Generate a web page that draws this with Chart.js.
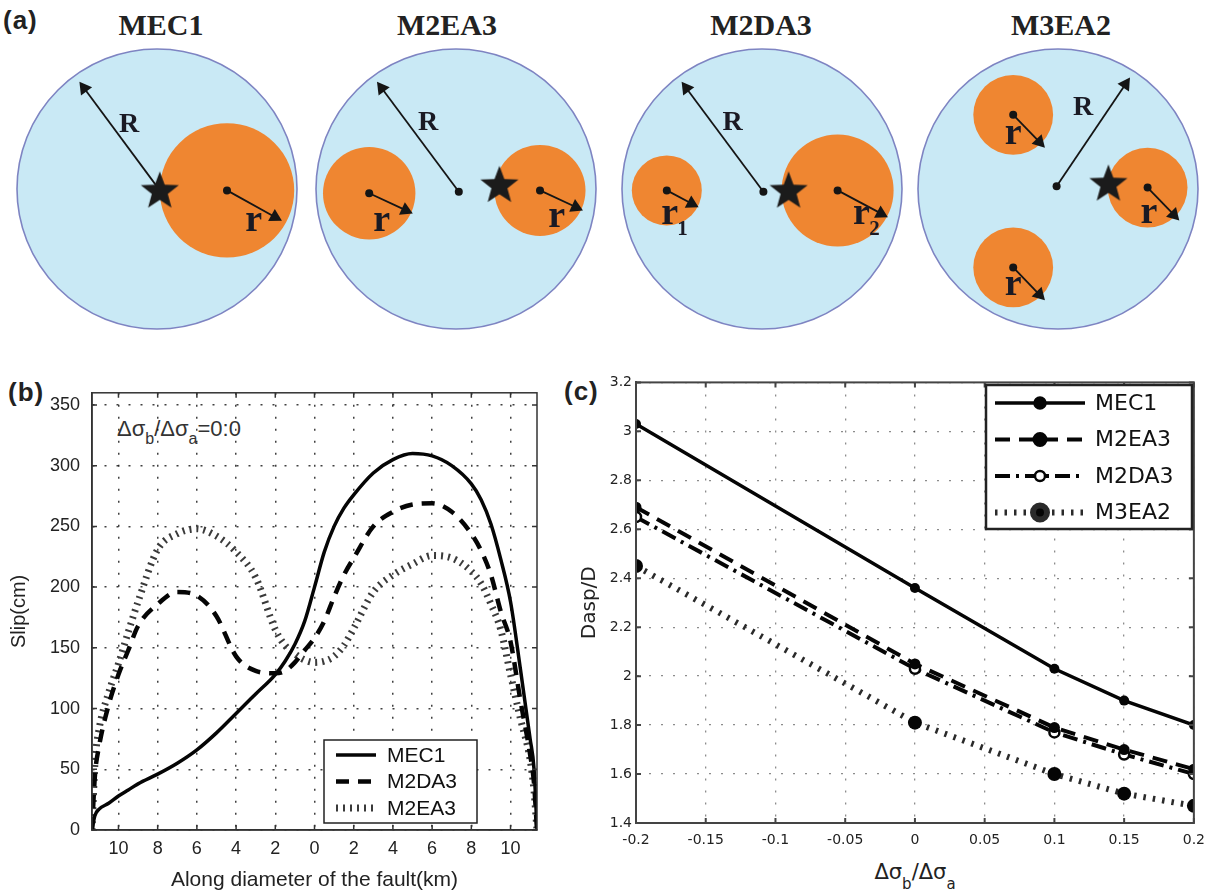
<!DOCTYPE html>
<html>
<head>
<meta charset="utf-8">
<script src="https://cdn.jsdelivr.net/npm/chart.js@4.4.1/dist/chart.umd.min.js"></script>
<style>
  body { margin: 0; background: #fff; width: 1214px; height: 893px; position: relative; overflow: hidden; }
  canvas { position: absolute; }
  .txt { position: absolute; color: #222; white-space: nowrap; }
  .panel { font: bold 26px "Liberation Sans", Arial, sans-serif; letter-spacing: 1px; }
  .title { font: bold 30px "Liberation Serif", "Times New Roman", serif; width: 200px; text-align: center; line-height: 30px; top: 10px; }
  .sub { position: relative; }
</style>
</head>
<body>
<div class="txt panel" style="left:3px;top:5px">(a)</div>
<div class="txt panel" style="left:8px;top:377px">(b)</div>
<div class="txt panel" style="left:564px;top:376px">(c)</div>
<div class="txt" style="left:117px;top:418px;font:22px 'Liberation Sans',Arial,sans-serif;line-height:22px;color:#333">&Delta;&sigma;<span class="sub" style="font-size:16px;top:8px">b</span>/&Delta;&sigma;<span class="sub" style="font-size:16px;top:8px">a</span>=0:0</div>
<div class="txt" style="left:815px;width:200px;text-align:center;top:862px;font:21px 'DejaVu Sans',sans-serif;line-height:21px">&Delta;&sigma;<span class="sub" style="font-size:15px;top:10px">b</span>/&Delta;&sigma;<span class="sub" style="font-size:15px;top:10px">a</span></div>

<script>
// ---------- panel (a): fault models, radius of fault R = 1 ----------
const faultNames = ['MEC1', 'M2EA3', 'M2DA3', 'M3EA2'];
const asperityCentres = [
  [[0.5, -0.01]],
  [[-0.62, -0.03], [0.6, -0.01]],
  [[-0.68, -0.01], [0.54, -0.01]],
  [[-0.32, 0.53], [0.64, 0.01], [-0.32, -0.56]],
];
const asperityRadii = [[0.48], [0.33, 0.325], [0.25, 0.4], [0.285, 0.285, 0.285]];
const asperityLabels = [['r'], ['r', 'r'], ['r1', 'r2'], ['r', 'r', 'r']];
const hypocentres = [[0.02, -0.01], [0.31, 0.03], [0.19, -0.01], [0.36, 0.04]];
const faultCentres = [[0.02, -0.01], [0.02, -0.02], [0.01, -0.02], [-0.01, 0.02]];
const radiusArrowTips = [[-0.55, 0.76], [-0.56, 0.76], [-0.57, 0.76], [0.51, 0.79]];
const slipArrowAngles = [-29, -25, -28, -46];
const slipArrowLength = [0.92, 1.02, 1.0, 1.12];

// ---------- panel (b): slip along the diameter ----------
const slipX = [-11.35, -11.2, -11, -10.5, -10, -9.5, -9, -8, -7, -6, -5, -4, -3, -2, -1.5, -1, -0.5, 0,
  0.5, 1, 1.5, 2, 3, 4, 5, 6, 7, 8, 8.5, 9, 9.5, 10, 10.5, 11, 11.2, 11.35];
const slipMEC1 = [0, 12, 17, 22, 28, 33, 38, 46, 55, 66, 80, 96, 112, 128, 139, 153, 172, 200,
  229, 250, 265, 276, 294, 305, 310, 308, 300, 285, 272, 252, 223, 188, 133, 75, 50, 0];
const slipM2DA3 = [0, 45, 68, 103, 128, 148, 168, 186, 196, 193, 176, 143, 131, 129, 131, 138, 148, 158,
  172, 192, 210, 224, 250, 262, 268, 269, 262, 244, 230, 210, 180, 155, 107, 62, 38, 0];
const slipM2EA3 = [0, 55, 82, 113, 137, 163, 188, 231, 244, 248, 242, 229, 208, 165, 152, 145, 140, 138,
  139, 143, 152, 166, 196, 210, 219, 226, 224, 213, 203, 186, 165, 128, 92, 58, 32, 0];
const slipTicks = [-10, -8, -6, -4, -2, 0, 2, 4, 6, 8, 10];
const slipTickLabels = ['10', '8', '6', '4', '2', '0', '2', '4', '6', '8', '10'];
const slipYTicks = [0, 50, 100, 150, 200, 250, 300, 350];

// ---------- panel (c): Dasp/D against stress ratio ----------
const stressRatio = [-0.2, 0, 0.1, 0.15, 0.2];
const daspMEC1 = [3.03, 2.36, 2.03, 1.90, 1.80];
const daspM2EA3 = [2.69, 2.05, 1.79, 1.70, 1.62];
const daspM2DA3 = [2.65, 2.03, 1.77, 1.68, 1.60];
const daspM3EA2 = [2.45, 1.81, 1.60, 1.52, 1.47];
const ratioTicks = [-0.2, -0.15, -0.1, -0.05, 0, 0.05, 0.1, 0.15, 0.2];
const ratioTickLabels = ['-0.2', '-0.15', '-0.1', '-0.05', '0', '0.05', '0.1', '0.15', '0.2'];
const daspTicks = [1.4, 1.6, 1.8, 2, 2.2, 2.4, 2.6, 2.8, 3, 3.2];
const daspTickLabels = ['1.4', '1.6', '1.8', '2', '2.2', '2.4', '2.6', '2.8', '3', '3.2'];

// layout
const diagramX = [157, 456, 762, 1058];
const titleX = [161, 447, 761, 1061];
const PX_PER_R = 140;
const labelOffsets = [[[0.19, -0.22]], [[0.09, -0.2], [0.12, -0.19]], [[0.02, -0.17], [0.17, -0.17]],
  [[0, -0.14], [0.01, -0.18], [0, -0.13]]];
const radiusLabels = [[-0.2, 0.46], [-0.2, 0.47], [-0.21, 0.47], [0.18, 0.58]];

function addCanvas(left, top, w, h) {
  const cv = document.createElement('canvas');
  cv.width = w; cv.height = h;
  cv.style.left = left + 'px'; cv.style.top = top + 'px';
  document.body.appendChild(cv);
  return cv;
}

function makeStar(size) {
  const c = document.createElement('canvas');
  c.width = c.height = size * 2 + 4;
  const g = c.getContext('2d');
  g.translate(c.width / 2, c.height / 2 + 1);
  g.beginPath();
  for (let i = 0; i < 10; i++) {
    const rr = i % 2 ? size * 0.42 : size;
    const a = -Math.PI / 2 + i * Math.PI / 5;
    g.lineTo(rr * Math.cos(a), rr * Math.sin(a));
  }
  g.closePath();
  g.fillStyle = '#1b1b1b';
  g.fill();
  return c;
}
const starImage = makeStar(20);

const unitPx = chart => chart.scales.x.getPixelForValue(1) - chart.scales.x.getPixelForValue(0);
const circleRadius = ctx => (ctx.raw ? ctx.raw.r * unitPx(ctx.chart) : 0);

function arrowDataset(from, to, order) {
  const dx = to[0] - from[0], dy = to[1] - from[1];
  const len = Math.hypot(dx, dy);
  const back = 7 / PX_PER_R;
  const head = { x: to[0] - dx / len * back, y: to[1] - dy / len * back };
  return {
    data: [{ x: from[0], y: from[1] }, head],
    showLine: true,
    borderColor: '#151515',
    borderWidth: 1.8,
    pointStyle: 'triangle',
    pointRotation: Math.atan2(dx, dy) * 180 / Math.PI,
    pointRadius: [0, 8],
    pointBackgroundColor: '#151515',
    pointBorderWidth: 0,
    clip: false,
    order
  };
}

const diagramText = {
  id: 'diagramText',
  afterDatasetsDraw(chart, args, o) {
    const { ctx, scales: { x, y } } = chart;
    const k = o.index;
    ctx.save();
    ctx.fillStyle = '#1a1a24';
    ctx.textAlign = 'center';
    ctx.textBaseline = 'middle';
    ctx.font = 'bold 28px "Liberation Serif", serif';
    const [rx, ry] = radiusLabels[k];
    ctx.fillText('R', x.getPixelForValue(rx), y.getPixelForValue(ry));
    asperityCentres[k].forEach(([cx, cy], i) => {
      const [ox, oy] = labelOffsets[k][i];
      const px = x.getPixelForValue(cx + ox), py = y.getPixelForValue(cy + oy);
      const label = asperityLabels[k][i];
      ctx.font = 'bold 38px "Liberation Serif", serif';
      ctx.fillText(label[0], px, py);
      if (label.length > 1) {
        ctx.font = 'bold 21px "Liberation Serif", serif';
        ctx.fillText(label.slice(1), px + 13, py + 15);
      }
    });
    ctx.restore();
  }
};

faultNames.forEach((name, k) => {
  const t = document.createElement('div');
  t.className = 'txt title';
  t.style.left = (titleX[k] - 100) + 'px';
  t.textContent = name;
  document.body.appendChild(t);

  const cv = addCanvas(diagramX[k] - 150, 39, 300, 300);
  const half = 150 / PX_PER_R;
  const asp = asperityCentres[k].map(([x, y], i) => ({ x, y, r: asperityRadii[k][i] }));
  const datasets = [
    { data: [{ x: 0, y: 0, r: 1 }], pointRadius: circleRadius, pointBackgroundColor: '#c9e9f5',
      pointBorderColor: '#7e84c2', pointBorderWidth: 1.6, clip: false, order: 9 },
    { data: asp, pointRadius: circleRadius, pointBackgroundColor: '#ef8631', pointBorderWidth: 0,
      clip: false, order: 8 },
    arrowDataset(faultCentres[k], radiusArrowTips[k], 5),
  ];
  asp.forEach(a => {
    const ang = slipArrowAngles[k] * Math.PI / 180;
    const L = a.r * slipArrowLength[k];
    datasets.push(arrowDataset([a.x, a.y], [a.x + L * Math.cos(ang), a.y + L * Math.sin(ang)], 5));
  });
  datasets.push({
    data: [{ x: faultCentres[k][0], y: faultCentres[k][1] }].concat(asp.map(a => ({ x: a.x, y: a.y }))),
    pointRadius: 4, pointBackgroundColor: '#151515', pointBorderWidth: 0, clip: false, order: 3
  });
  datasets.push({
    data: [{ x: hypocentres[k][0], y: hypocentres[k][1] }],
    pointStyle: starImage, pointRadius: 20, clip: false, order: 1
  });

  new Chart(cv, {
    type: 'scatter',
    data: { datasets },
    options: {
      responsive: false, animation: false, events: [], devicePixelRatio: 1,
      layout: { padding: 0, autoPadding: false },
      plugins: { legend: { display: false }, tooltip: { enabled: false }, diagramText: { index: k } },
      scales: {
        x: { type: 'linear', display: false, min: -half, max: half },
        y: { type: 'linear', display: false, min: -half, max: half }
      }
    },
    plugins: [diagramText]
  });
});

// ---------- shared plugins for (b) and (c) ----------
const axisBox = {
  id: 'axisBox',
  afterDatasetsDraw(chart, args, o) {
    const { ctx, chartArea: a, scales: { x, y } } = chart;
    ctx.save();
    ctx.strokeStyle = o.color;
    ctx.lineWidth = o.width;
    ctx.strokeRect(a.left, a.top, a.right - a.left, a.bottom - a.top);
    ctx.beginPath();
    x.ticks.forEach(t => {
      const p = x.getPixelForValue(t.value);
      ctx.moveTo(p, a.bottom); ctx.lineTo(p, a.bottom - o.tick);
      ctx.moveTo(p, a.top); ctx.lineTo(p, a.top + o.tick);
    });
    y.ticks.forEach(t => {
      const p = y.getPixelForValue(t.value);
      ctx.moveTo(a.left, p); ctx.lineTo(a.left + o.tick, p);
      ctx.moveTo(a.right, p); ctx.lineTo(a.right - o.tick, p);
    });
    ctx.stroke();
    ctx.restore();
  }
};

const lineLegend = {
  id: 'lineLegend',
  afterDraw(chart, args, o) {
    const ctx = chart.ctx;
    ctx.save();
    ctx.fillStyle = '#fff';
    ctx.fillRect(o.x, o.y, o.w, o.h);
    ctx.lineWidth = o.frame;
    ctx.strokeStyle = '#222';
    ctx.strokeRect(o.x, o.y, o.w, o.h);
    chart.data.datasets.forEach((ds, i) => {
      const y = o.y + o.first + i * o.step;
      ctx.setLineDash(ds.borderDash || []);
      ctx.lineDashOffset = o.dashOffset || 0;
      ctx.lineWidth = ds.borderWidth;
      ctx.strokeStyle = ds.borderColor;
      ctx.lineCap = 'butt';
      ctx.beginPath();
      ctx.moveTo(o.x + o.lineFrom, y);
      ctx.lineTo(o.x + o.lineTo, y);
      ctx.stroke();
      ctx.setLineDash([]);
      if (ds.pointRadius) {
        ctx.beginPath();
        ctx.arc(o.x + (o.lineFrom + o.lineTo) / 2, y, ds.pointRadius, 0, Math.PI * 2);
        ctx.fillStyle = ds.pointBackgroundColor;
        ctx.fill();
        ctx.lineWidth = ds.pointBorderWidth || 0;
        if (ctx.lineWidth) { ctx.strokeStyle = ds.pointBorderColor; ctx.stroke(); }
      }
      ctx.fillStyle = '#111';
      ctx.font = o.font;
      ctx.textBaseline = 'middle';
      ctx.textAlign = 'left';
      ctx.fillText(ds.label, o.x + o.textX, y + 1);
    });
    ctx.restore();
  }
};

const pointsOf = (xs, ys) => xs.map((x, i) => ({ x, y: ys[i] }));

// ---------- panel (b) ----------
const fontB = { family: '"Liberation Sans", Arial, sans-serif', size: 18 };
new Chart(addCanvas(0, 370, 560, 523), {
  type: 'line',
  data: {
    datasets: [
      { label: 'MEC1', data: pointsOf(slipX, slipMEC1), borderColor: '#050505', borderWidth: 3.5 },
      { label: 'M2DA3', data: pointsOf(slipX, slipM2DA3), borderColor: '#050505', borderWidth: 4.5, borderDash: [13, 9] },
      { label: 'M2EA3', data: pointsOf(slipX, slipM2EA3), borderColor: '#3a3a3a', borderWidth: 7, borderDash: [2, 5] }
    ]
  },
  options: {
    responsive: false, animation: false, events: [], devicePixelRatio: 1,
    layout: { padding: { top: 18, right: 23, left: 0, bottom: 0 }, autoPadding: false },
    elements: { point: { radius: 0 }, line: { cubicInterpolationMode: 'monotone', borderCapStyle: 'butt' } },
    plugins: {
      legend: { display: false }, tooltip: { enabled: false },
      axisBox: { color: '#333', width: 1.5, tick: 5 },
      lineLegend: { x: 324, y: 370, w: 153, h: 83, first: 15, step: 26.5, lineFrom: 12, lineTo: 52, textX: 63,
        frame: 1.5, font: '21px "Liberation Sans", Arial, sans-serif' }
    },
    scales: {
      x: {
        type: 'linear', min: -11.35, max: 11.35,
        afterBuildTicks: s => { s.ticks = slipTicks.map(v => ({ value: v })); },
        afterFit: s => { s.height = 63; },
        ticks: { callback: (v, i) => slipTickLabels[i], font: fontB, color: '#222', padding: 8, maxRotation: 0 },
        grid: { color: 'rgba(0,0,0,0.75)', lineWidth: 1.5, drawTicks: false },
        border: { display: true, color: '#333', width: 1.5, dash: [2, 10] },
        title: { display: true, text: 'Along diameter of the fault(km)', color: '#222',
          font: { family: fontB.family, size: 21 }, padding: { top: 0, bottom: 0 } }
      },
      y: {
        type: 'linear', min: 0, max: 360,
        afterBuildTicks: s => { s.ticks = slipYTicks.map(v => ({ value: v })); },
        afterFit: s => { s.width = 92; },
        ticks: { font: fontB, color: '#222', padding: 12 },
        grid: { color: 'rgba(0,0,0,0.75)', lineWidth: 1.5, drawTicks: false },
        border: { display: true, color: '#333', width: 1.5, dash: [2, 10] },
        title: { display: true, text: 'Slip(cm)', color: '#222',
          font: { family: fontB.family, size: 20 }, padding: { top: 7, bottom: 0 } }
      }
    }
  },
  plugins: [axisBox, lineLegend]
});

// ---------- panel (c) ----------
const fontC = { family: '"DejaVu Sans", sans-serif', size: 14 };
new Chart(addCanvas(565, 370, 649, 523), {
  type: 'line',
  data: {
    datasets: [
      { label: 'MEC1', data: pointsOf(stressRatio, daspMEC1), borderColor: '#050505', borderWidth: 3.5,
        pointRadius: 5, pointBackgroundColor: '#050505', pointBorderWidth: 0 },
      { label: 'M2EA3', data: pointsOf(stressRatio, daspM2EA3), borderColor: '#050505', borderWidth: 4, borderDash: [15, 9],
        pointRadius: 5.5, pointBackgroundColor: '#050505', pointBorderWidth: 0 },
      { label: 'M2DA3', data: pointsOf(stressRatio, daspM2DA3), borderColor: '#050505', borderWidth: 4, borderDash: [15, 6, 3, 6],
        pointRadius: 5, pointBackgroundColor: '#ffffff', pointBorderColor: '#050505', pointBorderWidth: 2.5 },
      { label: 'M3EA2', data: pointsOf(stressRatio, daspM3EA2), borderColor: '#2a2a2a', borderWidth: 6, borderDash: [2.5, 7],
        pointRadius: 7, pointBackgroundColor: '#050505', pointBorderWidth: 0 }
    ]
  },
  options: {
    responsive: false, animation: false, events: [], devicePixelRatio: 1,
    layout: { padding: { top: 12, right: 19, left: 0, bottom: 0 }, autoPadding: false },
    elements: { line: { tension: 0, borderCapStyle: 'butt' } },
    plugins: {
      legend: { display: false }, tooltip: { enabled: false },
      axisBox: { color: '#444', width: 2, tick: 5 },
      lineLegend: { x: 421, y: 15, w: 206, h: 144, first: 18, step: 36.5, lineFrom: 9, lineTo: 99, textX: 109,
        frame: 2.5, dashOffset: 0, font: '22px "DejaVu Sans", sans-serif' }
    },
    scales: {
      x: {
        type: 'linear', min: -0.2, max: 0.2,
        afterBuildTicks: s => { s.ticks = ratioTicks.map(v => ({ value: v })); },
        afterFit: s => { s.height = 70; },
        ticks: { callback: (v, i) => ratioTickLabels[i], font: fontC, color: '#222', padding: 9, maxRotation: 0 },
        grid: { color: 'rgba(0,0,0,0.45)', lineWidth: 1.3, drawTicks: false },
        border: { display: true, color: '#444', width: 2, dash: [2, 10] }
      },
      y: {
        type: 'linear', min: 1.4, max: 3.2,
        afterBuildTicks: s => { s.ticks = daspTicks.map(v => ({ value: v })); },
        afterFit: s => { s.width = 71; },
        ticks: { callback: (v, i) => daspTickLabels[i], font: fontC, color: '#222', padding: 4 },
        grid: { color: 'rgba(0,0,0,0.45)', lineWidth: 1.3, drawTicks: false },
        border: { display: true, color: '#444', width: 2, dash: [2, 10] },
        title: { display: true, text: 'Dasp/D', color: '#222',
          font: { family: fontC.family, size: 20 }, padding: { top: 13, bottom: 0 } }
      }
    }
  },
  plugins: [axisBox, lineLegend]
});
</script>
</body>
</html>
